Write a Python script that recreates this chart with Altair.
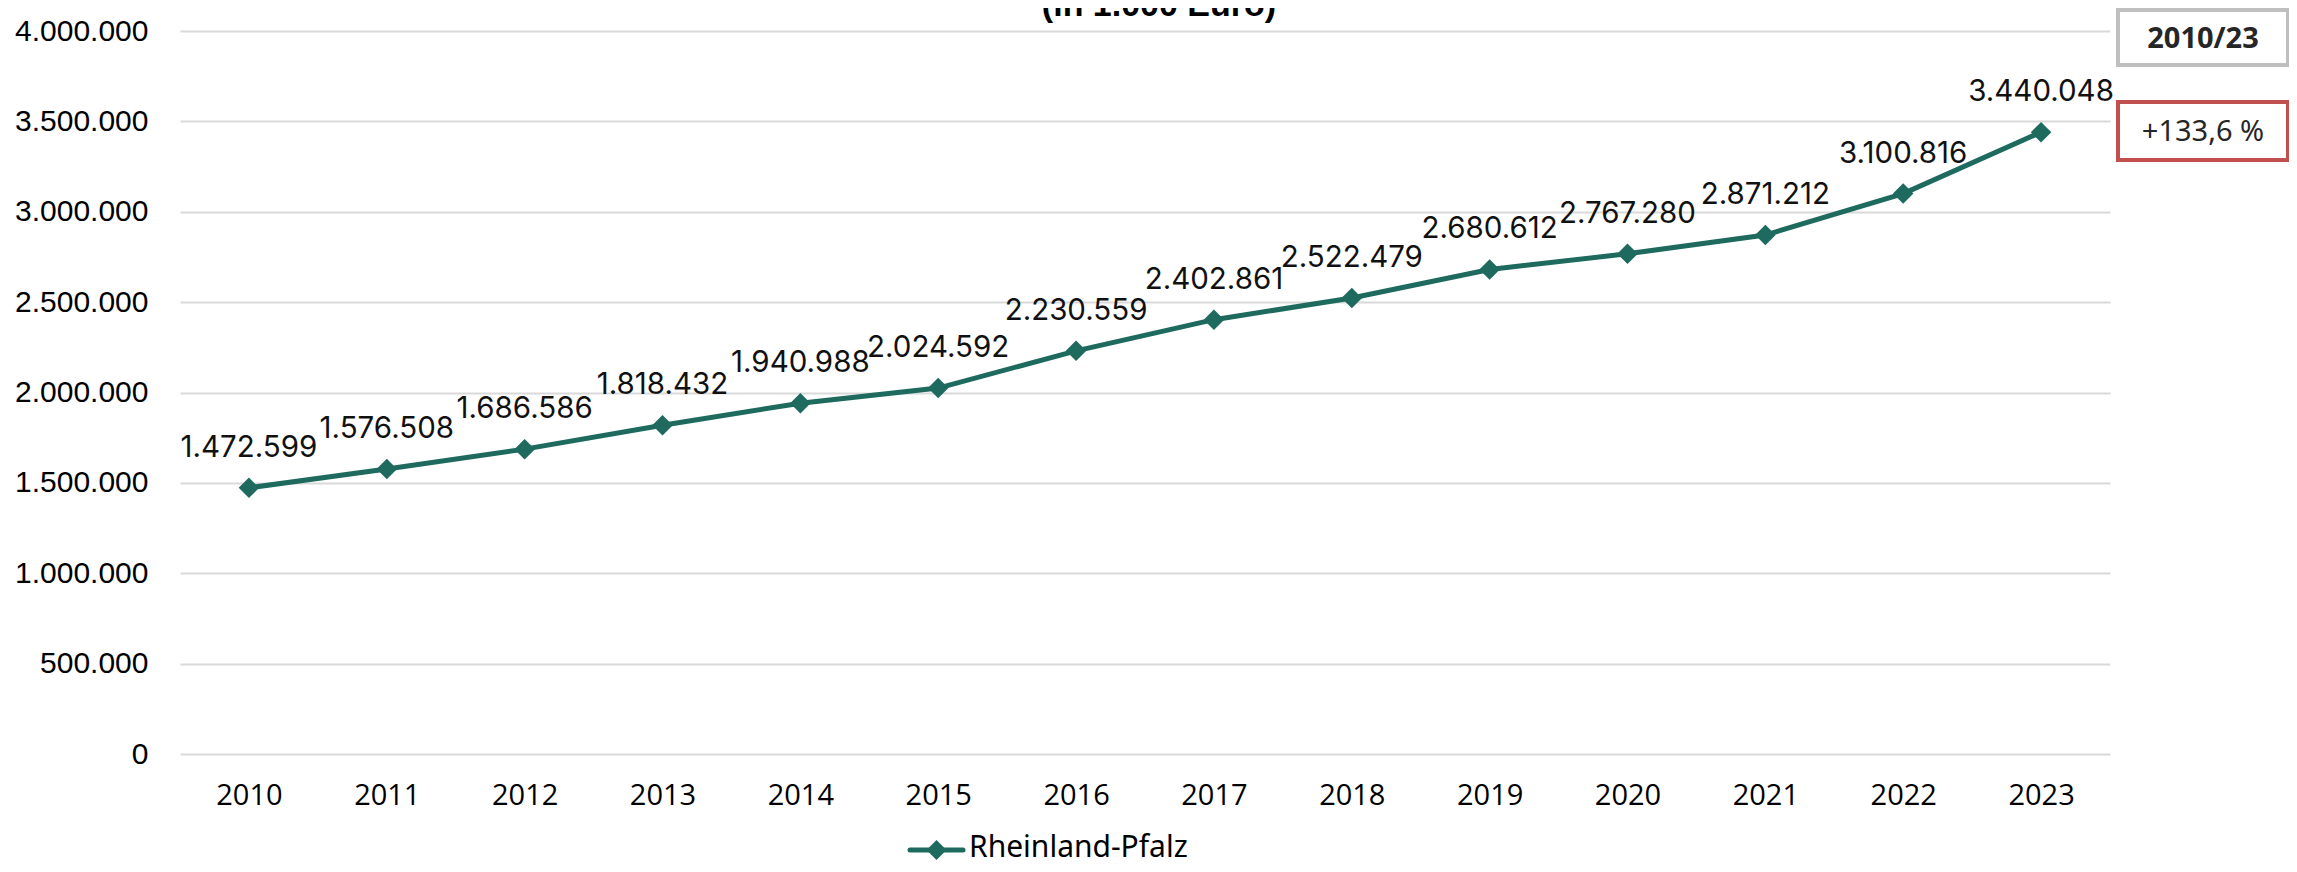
import altair as alt
import pandas as pd

years = ["2010", "2011", "2012", "2013", "2014", "2015", "2016",
         "2017", "2018", "2019", "2020", "2021", "2022", "2023"]
values = [1472599, 1576508, 1686586, 1818432, 1940988, 2024592, 2230559,
          2402861, 2522479, 2680612, 2767280, 2871212, 3100816, 3440048]
y_ticks = [0, 500000, 1000000, 1500000, 2000000, 2500000, 3000000, 3500000, 4000000]
series = "Rheinland-Pfalz"
title_text = "(in 1.000 Euro)"

LINE = "#1E6A5F"

def de(n):
    return f"{n:,}".replace(",", ".")

df = pd.DataFrame({"year": years, "value": values, "label": [de(v) for v in values]})

pct = (values[-1] / values[0] - 1) * 100
box_period = f"{years[0]}/{years[-1][2:]}"
box_pct = ("+" if pct >= 0 else "") + f"{pct:.1f}".replace(".", ",") + " %"

W, H = 1930, 723

x_enc = alt.X("year:O", sort=None, scale=alt.Scale(type="point", padding=0.5),
              axis=alt.Axis(title=None, labelAngle=0, domain=False, ticks=False, tickSize=0,
                            grid=False, labelFont="Open Sans", labelFontSize=29,
                            labelColor="#000000", labelPadding=27))
y_enc = alt.Y("value:Q", scale=alt.Scale(domain=[0, 4000000], nice=False),
              axis=alt.Axis(title=None, values=y_ticks, domain=False, ticks=False, tickSize=0,
                            grid=True, gridColor="#d9d9d9", gridWidth=2,
                            labelFont="Liberation Sans", labelFontSize=30,
                            labelColor="#000000", labelPadding=32,
                            labelExpr="replace(format(datum.value, ',d'), /,/g, '.')"))

base = alt.Chart(df)
line = base.mark_line(color=LINE, strokeWidth=5).encode(x=x_enc, y=y_enc)
pts = base.mark_point(shape="diamond", filled=True, size=420, color=LINE, opacity=1).encode(
    x="year:O", y="value:Q")
labels = base.mark_text(dy=-40, baseline="middle", align="center", font="Inter",
                        fontSize=29.5, color="#111111").encode(x="year:O", y="value:Q", text="label:N")

title = alt.Chart(pd.DataFrame({"t": [title_text]})).mark_text(
    font="Liberation Sans", fontWeight="bold", fontSize=34, color="#000000",
    align="center", baseline="alphabetic").encode(
    x=alt.value(979), y=alt.value(-15), text="t:N")

box_df = pd.DataFrame({"t": [box_period]})
box1 = alt.Chart(box_df).mark_rect(fill="white", stroke="#bfbfbf", strokeWidth=4).encode(
    x=alt.value(1938), x2=alt.value(2108), y=alt.value(-21), y2=alt.value(34))
box1_t = alt.Chart(box_df).mark_text(font="Noto Sans", fontWeight="bold", fontSize=29,
                                     color="#262626", align="center", baseline="middle").encode(
    x=alt.value(2023), y=alt.value(8), text="t:N")

box2_df = pd.DataFrame({"t": [box_pct]})
box2 = alt.Chart(box2_df).mark_rect(fill="white", stroke="#c0504d", strokeWidth=4).encode(
    x=alt.value(1938), x2=alt.value(2108), y=alt.value(71), y2=alt.value(129))
box2_t = alt.Chart(box2_df).mark_text(font="Noto Sans", fontSize=29,
                                      color="#262626", align="center", baseline="middle").encode(
    x=alt.value(2023), y=alt.value(101), text="t:N")

leg_df = pd.DataFrame({"s": [series]})
leg_rule = alt.Chart(leg_df).mark_rule(color=LINE, strokeWidth=5, strokeCap="round").encode(
    x=alt.value(730), x2=alt.value(783), y=alt.value(819))
leg_pt = alt.Chart(leg_df).mark_point(shape="diamond", filled=True, size=400, color=LINE, opacity=1).encode(
    x=alt.value(756.5), y=alt.value(819))
leg_t = alt.Chart(leg_df).mark_text(font="Noto Sans", fontSize=30, color="#000000",
                                    align="left", baseline="alphabetic").encode(
    x=alt.value(789), y=alt.value(826), text="s:N")

chart = alt.layer(line, pts, labels, title, box1, box1_t, box2, box2_t,
                  leg_rule, leg_pt, leg_t).properties(
    width=W, height=H,
    autosize=alt.AutoSizeParams(type="none"),
    padding={"left": 172, "top": 23, "right": 179, "bottom": 110},
    background="white",
).configure_view(strokeWidth=0)

chart.save("out.html", embed_options={"renderer": "svg", "actions": False})
